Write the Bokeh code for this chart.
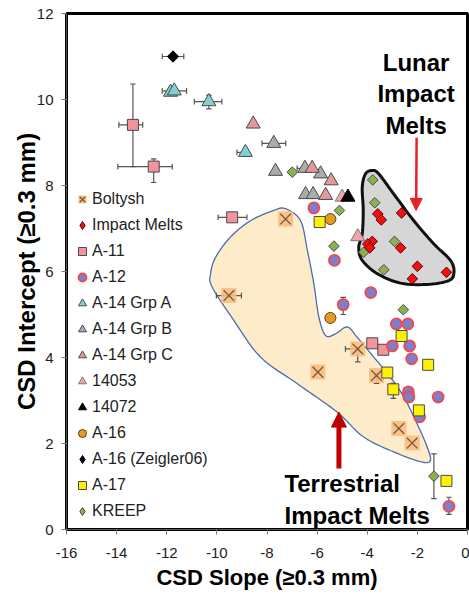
import numpy as np
from bokeh.plotting import figure
from bokeh.models import (Range1d, Legend, LegendItem, Arrow, NormalHead, FixedTicker)
from bokeh.core.properties import value
from bokeh.embed import file_html
from bokeh.resources import INLINE

# ---------------- data (CSD slope, CSD intercept) ----------------
boltysh_x = [-7.26, -9.52, -5.97, -4.38, -3.63, -2.74, -2.21]
boltysh_y = [7.22, 5.44, 3.66, 4.20, 3.58, 2.35, 2.01]

impact_x = [-3.58, -3.44, -2.63, -3.80, -3.98, -3.90, -2.67, -2.00, -2.20, -0.84]
impact_y = [7.34, 7.20, 7.36, 6.70, 6.64, 6.55, 6.55, 6.12, 5.83, 5.98]

a11_x = [-13.35, -12.52, -9.39, -3.80, -3.36]
a11_y = [9.41, 8.44, 7.26, 4.33, 4.18]

a12_x = [-6.13, -5.31, -4.96, -3.86, -2.84, -2.38, -3.00, -2.31, -2.23, -2.36, -2.34, -1.17, -1.91, -0.74]
a12_y = [7.48, 6.26, 5.23, 5.51, 4.78, 4.78, 4.27, 4.27, 3.97, 3.20, 3.08, 3.08, 2.62, 0.54]

a14a_x = [-11.85, -11.70, -10.32, -8.86]
a14a_y = [10.17, 10.20, 9.95, 8.77]

a14b_x = [-7.73, -7.66, -6.49, -5.86, -6.46, -6.16]
a14b_y = [8.98, 8.33, 8.40, 8.27, 7.79, 7.79]

a14c_x = [-8.55, -6.20, -5.66, -5.44]
a14c_y = [9.43, 8.40, 7.77, 8.11]

s14053_x = [-5.00, -4.38]
s14053_y = [7.73, 6.81]

s14072_x = [-4.77]
s14072_y = [7.73]

a16_x = [-5.47, -5.47]
a16_y = [7.22, 4.92]

zeigler_x = [-11.75]
zeigler_y = [11.00]

a17_x = [-5.90, -2.63, -1.57, -3.20, -2.96, -1.94, -0.84]
a17_y = [7.15, 4.50, 3.83, 3.65, 3.26, 2.77, 1.13]

kreep_x = [-6.99, -5.11, -5.33, -3.78, -3.70, -4.14, -2.91, -3.34, -2.56, -1.34]
kreep_y = [8.31, 7.42, 6.59, 8.13, 7.60, 6.45, 6.70, 6.04, 5.11, 1.24]

# error bars: centre, x-range, y-range
err_x = [-11.75, -11.75, -10.32, -8.86, -13.35, -12.52, -9.39, -7.73, -6.49, -9.52, -4.38, -3.63, -4.96, -2.96, -1.34, -0.74, -4.77]
err_y = [11.00, 10.20, 9.95, 8.77, 9.41, 8.44, 7.26, 8.98, 8.40, 5.44, 4.20, 3.58, 5.23, 3.26, 1.24, 0.54, 7.73]
err_xlo = [-12.18, -12.18, -10.90, -9.20, -13.91, -13.95, -9.95, -8.20, -6.80, -10.02, -4.87, -3.63, -4.96, -2.96, -1.34, -0.74, -5.00]
err_xhi = [-11.32, -11.21, -9.80, -8.86, -12.96, -11.78, -8.80, -7.25, -6.49, -9.02, -4.38, -3.63, -4.96, -2.96, -1.34, -0.74, -4.77]
err_ylo = [11.00, 10.20, 9.78, 8.77, 8.44, 8.07, 7.18, 8.98, 8.40, 5.44, 3.90, 3.40, 5.00, 3.05, 0.72, 0.35, 7.73]
err_yhi = [11.00, 10.20, 10.10, 8.77, 10.36, 8.62, 7.26, 8.98, 8.40, 5.44, 4.20, 3.58, 5.40, 3.40, 1.76, 0.75, 7.73]

# outlines of the two fields (annotation shapes)
terr_hull_x = [-7.26, -6.66, -6.39, -6.13, -5.93, -5.66, -5.27, -4.80, -4.40, -3.74, -3.07, -2.54, -2.01,
               -1.61, -1.48, -1.81, -2.80, -4.14, -5.20, -6.79, -8.26, -9.32, -10.19, -10.25, -10.05, -9.46, -8.66, -7.73]
terr_hull_y = [7.46, 7.18, 6.49, 5.71, 4.94, 4.51, 4.55, 4.71, 4.47, 4.01, 3.54, 3.08, 2.46,
               1.92, 1.61, 1.57, 1.77, 2.15, 2.73, 3.39, 4.01, 4.86, 5.64, 5.95, 6.33, 6.80, 7.18, 7.42]
lunar_hull_x = [-4.07, -3.80, -3.54, -2.94, -2.14, -1.34, -0.68, -0.54, -0.74, -1.61, -2.67, -3.60, -4.20, -4.34, -4.20, -4.16, -4.20]
lunar_hull_y = [8.27, 8.35, 8.27, 7.80, 7.18, 6.64, 6.26, 5.98, 5.79, 5.70, 5.73, 5.95, 6.26, 6.56, 6.88, 7.42, 7.96]

x_ticks = [-16, -14, -12, -10, -8, -6, -4, -2, 0]
y_ticks = [0, 2, 4, 6, 8, 10, 12]


def smooth_closed(xs, ys, n=10):
    """Closed Catmull-Rom outline through the given vertices."""
    P = np.column_stack([xs, ys]).astype(float)
    m = len(P)
    out = []
    for i in range(m):
        p0, p1, p2, p3 = P[(i - 1) % m], P[i], P[(i + 1) % m], P[(i + 2) % m]
        for t in np.linspace(0, 1, n, endpoint=False):
            t2, t3 = t * t, t * t * t
            pt = 0.5 * ((2 * p1) + (-p0 + p2) * t + (2 * p0 - 5 * p1 + 4 * p2 - p3) * t2 + (-p0 + 3 * p1 - 3 * p2 + p3) * t3)
            out.append(pt)
    out = np.array(out)
    return list(out[:, 0]), list(out[:, 1])


FONT = "Liberation Sans"

p = figure(width=469, height=595, output_backend="svg", toolbar_location=None,
           x_range=Range1d(-16, 0), y_range=Range1d(0, 12),
           min_border_left=66, min_border_right=2, min_border_top=13, min_border_bottom=66)
p.xgrid.visible = False
p.ygrid.visible = False
p.outline_line_color = "black"
p.outline_line_width = 3
p.background_fill_color = "white"

for ax in (p.xaxis[0], p.yaxis[0]):
    ax.axis_line_color = "#555555"
    ax.axis_line_width = 1
    ax.major_tick_line_color = "#777777"
    ax.major_tick_out = 5
    ax.major_tick_in = 0
    ax.minor_tick_line_color = None
    ax.major_label_text_font = FONT
    ax.major_label_text_font_size = "15px"
    ax.major_label_text_color = "#222222"
    ax.axis_label_text_font = FONT
    ax.axis_label_text_font_style = "bold"
    ax.axis_label_text_color = "black"

p.xaxis.ticker = FixedTicker(ticks=x_ticks)
p.yaxis.ticker = FixedTicker(ticks=y_ticks)
p.xaxis.major_label_overrides = {t: str(t) for t in x_ticks}
p.yaxis.major_label_overrides = {t: str(t) for t in y_ticks}
p.xaxis.axis_label = "CSD Slope (≥0.3 mm)"
p.yaxis.axis_label = "CSD Intercept (≥0.3 mm)"
p.xaxis.axis_label_text_font_size = "22px"
p.yaxis.axis_label_text_font_size = "24px"
p.xaxis.major_label_standoff = 13
p.yaxis.major_label_standoff = 8
p.xaxis.axis_label_standoff = 4
p.yaxis.axis_label_standoff = -6

# fields
tx, ty = smooth_closed(terr_hull_x, terr_hull_y)
p.patch(tx, ty, fill_color="#FDEBC9", line_color="#4A6DB0", line_width=1.3)
lx, ly = smooth_closed(lunar_hull_x, lunar_hull_y)
p.patch(lx, ly, fill_color="#D6D6D6", line_color="#111111", line_width=3)

# error bars
EC = "#555555"
p.segment(err_xlo, err_y, err_xhi, err_y, line_color=EC, line_width=1.2)
p.segment(err_x, err_ylo, err_x, err_yhi, line_color=EC, line_width=1.2)
cap_dx, cap_dy = 0.11, 0.065
p.segment([v for v in err_xlo], [v - cap_dy for v in err_y], [v for v in err_xlo], [v + cap_dy for v in err_y], line_color=EC, line_width=1.2)
p.segment([v for v in err_xhi], [v - cap_dy for v in err_y], [v for v in err_xhi], [v + cap_dy for v in err_y], line_color=EC, line_width=1.2)
p.segment([v - cap_dx for v in err_x], err_ylo, [v + cap_dx for v in err_x], err_ylo, line_color=EC, line_width=1.2)
p.segment([v - cap_dx for v in err_x], err_yhi, [v + cap_dx for v in err_x], err_yhi, line_color=EC, line_width=1.2)

EDGE = "#4a4a4a"
DIA = np.pi / 4

# legend proxies for the diamond series (zero size on the plot; the legend draws its own symbol size)
r_kreep = p.scatter(kreep_x, kreep_y, marker="diamond", size=0, fill_color="#8CB050", line_color=EDGE, line_width=1)
r_imp = p.scatter(impact_x, impact_y, marker="diamond", size=0, fill_color="#F01010", line_color="#5A0000", line_width=1)
r_zeig = p.scatter(zeigler_x, zeigler_y, marker="diamond", size=0, fill_color="black", line_color="black")

r_bsq = p.scatter(boltysh_x, boltysh_y, marker="square", size=15, fill_color="#F8BE84", fill_alpha=0.9, line_color=None)
r_bx = p.scatter(boltysh_x, boltysh_y, marker="x", size=15, line_color="#7A5634", line_width=1.3)
r_a14b = p.scatter(a14b_x, a14b_y, marker="triangle", size=14, fill_color="#ABABAB", line_color=EDGE, line_width=1)
r_a14c = p.scatter(a14c_x, a14c_y, marker="triangle", size=14, fill_color="#E3999A", line_color=EDGE, line_width=1)
r_14053 = p.scatter(s14053_x, s14053_y, marker="triangle", size=14, fill_color="#F6A4AA", line_color="#777777", line_width=1)
r_14072 = p.scatter(s14072_x, s14072_y, marker="triangle", size=14, fill_color="black", line_color="black")
r_a14a = p.scatter(a14a_x, a14a_y, marker="triangle", size=14, fill_color="#82D0D2", line_color=EDGE, line_width=1)
r_a11 = p.scatter(a11_x, a11_y, marker="square", size=11, fill_color="#F4939B", line_color=EDGE, line_width=1)
r_a12 = p.scatter(a12_x, a12_y, marker="circle", size=11, fill_color="#7D7FCB", line_color="#F2484E", line_width=1.8)
r_a16 = p.scatter(a16_x, a16_y, marker="circle", size=11, fill_color="#E29A22", line_color="#5A4310", line_width=1)
r_a17 = p.scatter(a17_x, a17_y, marker="square", size=11, fill_color="#FFF200", line_color=EDGE, line_width=1)
p.scatter(kreep_x, kreep_y, marker="square", angle=DIA, size=7.5, fill_color="#8CB050", line_color=EDGE, line_width=1)
p.scatter(impact_x, impact_y, marker="square", angle=DIA, size=7.5, fill_color="#F01010", line_color="#5A0000", line_width=1)
p.scatter(zeigler_x, zeigler_y, marker="square", angle=DIA, size=8, fill_color="black", line_color="black")

# arrows
p.add_layout(Arrow(end=NormalHead(size=12, fill_color="#E8202A", line_color="#E8202A"),
                   x_start=-2.03, y_start=9.11, x_end=-2.05, y_end=7.42,
                   line_color="#E8202A", line_width=2.5))
p.add_layout(Arrow(end=NormalHead(size=15, fill_color="#C00000", line_color="#C00000"),
                   x_start=-5.13, y_start=1.42, x_end=-5.13, y_end=2.73,
                   line_color="#C00000", line_width=5))

# annotation text
p.text(x=[-2.05, -2.05, -2.05], y=[10.86, 10.13, 9.39], text=["Lunar", "Impact", "Melts"],
       text_font=value(FONT), text_font_style="bold", text_font_size="24px",
       text_align="center", text_baseline="middle", text_color="black")
p.text(x=[-5.00, -4.40], y=[1.08, 0.33], text=["Terrestrial", "Impact Melts"],
       text_font=value(FONT), text_font_style="bold", text_font_size="24px",
       text_align="center", text_baseline="middle", text_color="black")

legend = Legend(items=[
    LegendItem(label="Boltysh", renderers=[r_bsq, r_bx]),
    LegendItem(label="Impact Melts", renderers=[r_imp]),
    LegendItem(label="A-11", renderers=[r_a11]),
    LegendItem(label="A-12", renderers=[r_a12]),
    LegendItem(label="A-14 Grp A", renderers=[r_a14a]),
    LegendItem(label="A-14 Grp B", renderers=[r_a14b]),
    LegendItem(label="A-14 Grp C", renderers=[r_a14c]),
    LegendItem(label="14053", renderers=[r_14053]),
    LegendItem(label="14072", renderers=[r_14072]),
    LegendItem(label="A-16", renderers=[r_a16]),
    LegendItem(label="A-16 (Zeigler06)", renderers=[r_zeig]),
    LegendItem(label="A-17", renderers=[r_a17]),
    LegendItem(label="KREEP", renderers=[r_kreep]),
], location=(6, 8), padding=0, spacing=6, label_height=20, glyph_height=20, glyph_width=20,
    label_standoff=0, border_line_color=None, background_fill_alpha=0,
    label_text_font=FONT, label_text_font_size="16px", label_text_color="#222222")
p.add_layout(legend)

open("out.html", "w").write(file_html(p, INLINE))
